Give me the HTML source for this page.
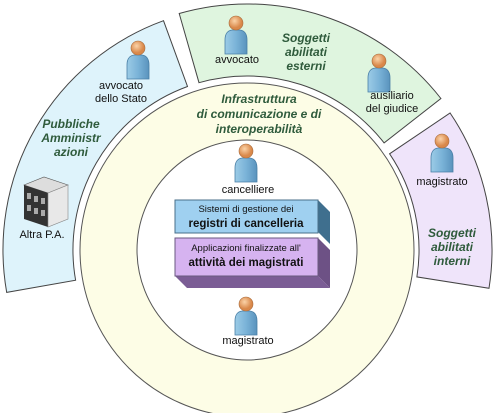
<!DOCTYPE html>
<html><head><meta charset="utf-8"><style>
html,body{margin:0;padding:0;background:#fff;}
svg{display:block;font-family:"Liberation Sans",sans-serif;}
.t{font-size:11px;fill:#111;text-anchor:middle;}
.h{font-size:12px;font-weight:bold;font-style:italic;fill:#2f5b3c;text-anchor:middle;}
</style></head><body>
<svg id="s" width="493" height="413" viewBox="0 0 493 413" xmlns="http://www.w3.org/2000/svg">
<defs>
<linearGradient id="bd" x1="0" x2="1"><stop offset="0" stop-color="#9ccbe6"/><stop offset="0.5" stop-color="#7ab3d8"/><stop offset="1" stop-color="#5a93bd"/></linearGradient>
<radialGradient id="hd" cx="0.4" cy="0.35"><stop offset="0" stop-color="#fbd3a8"/><stop offset="1" stop-color="#d9884a"/></radialGradient>
<g id="p">
<path d="M-11,22 L-11,8 Q-11,-1 -4,-2 L4,-2 Q11,-1 11,8 L11,22 Z" fill="url(#bd)" stroke="#4a7fa6" stroke-width="0.8"/>
<circle cx="0" cy="-9" r="7" fill="url(#hd)" stroke="#a86a3a" stroke-width="0.6"/>
</g>
</defs>
<g id="segs"></g>
<circle cx="247" cy="250" r="167" fill="#fdfde6" stroke="#555" stroke-width="1"/>
<circle cx="247" cy="250" r="110" fill="#fff" stroke="#555" stroke-width="1"/>
<!-- boxes -->
<polygon points="318,200 330,212 330,244 318,232" fill="#3f6f8e"/>
<rect x="175" y="200" width="143" height="33" fill="#9fd0f0" stroke="#4a6f8a" stroke-width="1"/>
<polygon points="318,238 330,250 330,288 318,276" fill="#6d5185"/>
<polygon points="175,276 318,276 330,288 187,288" fill="#7b5d95"/>
<rect x="175" y="238" width="143" height="38" fill="#d6b3f0" stroke="#6a5a80" stroke-width="1"/>
<text class="t" x="246" y="212" style="font-size:9.5px">Sistemi di gestione dei</text>
<text class="t" x="246" y="227" style="font-weight:bold;font-size:11.5px">registri di cancelleria</text>
<text class="t" x="246" y="251" style="font-size:9.5px">Applicazioni finalizzate all'</text>
<text class="t" x="246" y="266" style="font-weight:bold;font-size:11.5px">attività dei magistrati</text>
<!-- persons -->
<use href="#p" x="138" y="57"/>
<use href="#p" x="236" y="32"/>
<use href="#p" x="379" y="70"/>
<use href="#p" x="442" y="150"/>
<use href="#p" x="246" y="160"/>
<use href="#p" x="246" y="313"/>
<!-- building -->
<g transform="translate(24,177)">
<polygon points="0,8 20,0 44,8 24,16" fill="#ddd" stroke="#555" stroke-width="0.6"/>
<polygon points="0,8 24,16 24,50 0,42" fill="#333"/>
<polygon points="24,16 44,8 44,42 24,50" fill="#e8e8e8" stroke="#888" stroke-width="0.6"/>
<rect x="3" y="16" width="4" height="6" fill="#aaa"/><rect x="10" y="19" width="4" height="6" fill="#aaa"/><rect x="17" y="21" width="4" height="6" fill="#aaa"/>
<rect x="3" y="28" width="4" height="6" fill="#aaa"/><rect x="10" y="31" width="4" height="6" fill="#aaa"/><rect x="17" y="33" width="4" height="6" fill="#aaa"/>
</g>
<!-- labels -->
<text class="t" x="121" y="89">avvocato</text>
<text class="t" x="121" y="102">dello Stato</text>
<text class="t" x="237" y="63">avvocato</text>
<text class="t" x="392" y="99">ausiliario</text>
<text class="t" x="392" y="112">del giudice</text>
<text class="t" x="442" y="185">magistrato</text>
<text class="t" x="248" y="193">cancelliere</text>
<text class="t" x="248" y="344">magistrato</text>
<text class="t" x="42" y="238">Altra P.A.</text>
<text class="h" x="71" y="128">Pubbliche</text>
<text class="h" x="71" y="142">Amministr</text>
<text class="h" x="71" y="156">azioni</text>
<text class="h" x="306" y="42">Soggetti</text>
<text class="h" x="306" y="56">abilitati</text>
<text class="h" x="306" y="70">esterni</text>
<text class="h" x="452" y="237">Soggetti</text>
<text class="h" x="452" y="251">abilitati</text>
<text class="h" x="452" y="265">interni</text>
<text class="h" x="259" y="103">Infrastruttura</text>
<text class="h" x="259" y="118">di comunicazione e di</text>
<text class="h" x="259" y="133">interoperabilità</text>
</svg>
<script>
(function(){
var cx=247,cy=250;
function seg(a1,a2,r1,r2,fill){
 function pt(a,r){var t=a*Math.PI/180;return (cx+r*Math.cos(t)).toFixed(1)+","+(cy-r*Math.sin(t)).toFixed(1);}
 var large=(a2-a1)>180?1:0;
 var d="M"+pt(a1,r2)+" A"+r2+","+r2+" 0 "+large+" 0 "+pt(a2,r2)+" L"+pt(a2,r1)+" A"+r1+","+r1+" 0 "+large+" 1 "+pt(a1,r1)+" Z";
 return '<path d="'+d+'" fill="'+fill+'" stroke="#444" stroke-width="1"/>';
}
document.getElementById("segs").innerHTML=
 seg(110,190,174,244,"#def3fb")+
 seg(38,106,174,246,"#dff5df")+
 seg(-9,34,172,245,"#efe4fa");
})();
</script>
</body></html>
